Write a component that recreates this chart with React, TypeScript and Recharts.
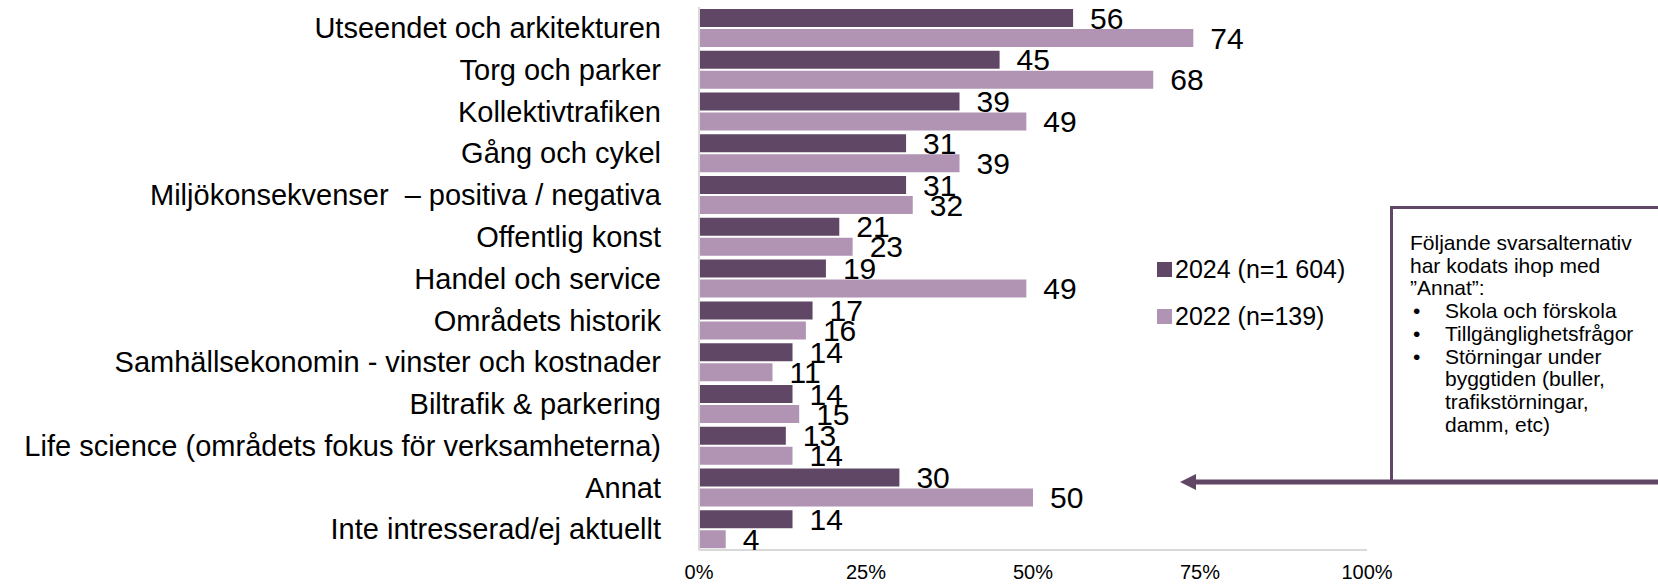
import React from 'react';
import { BarChart, Bar, XAxis, YAxis, LabelList } from 'recharts';

const categories = [
  'Utseendet och arkitekturen',
  'Torg och parker',
  'Kollektivtrafiken',
  'Gång och cykel',
  'Miljökonsekvenser \u00a0– positiva / negativa',
  'Offentlig konst',
  'Handel och service',
  'Områdets historik',
  'Samhällsekonomin - vinster och kostnader',
  'Biltrafik & parkering',
  'Life science (områdets fokus för verksamheterna)',
  'Annat',
  'Inte intresserad/ej aktuellt',
];
const values2024 = [56, 45, 39, 31, 31, 21, 19, 17, 14, 14, 13, 30, 14];
const values2022 = [74, 68, 49, 39, 32, 23, 49, 16, 11, 15, 14, 50, 4];
const xTicks = [0, 25, 50, 75, 100];
const seriesNames = ['2024 (n=1 604)', '2022 (n=139)'];
const seriesColors = ['#614766', '#b193b4'];
const noteIntro = ['Följande svarsalternativ', 'har kodats ihop med', '”Annat”:'];
const noteBullets = [
  ['Skola och förskola'],
  ['Tillgänglighetsfrågor'],
  ['Störningar under', 'byggtiden (buller,', 'trafikstörningar,', 'damm, etc)'],
];

const data = categories.map((c, i) => ({ name: c, v2024: values2024[i], v2022: values2022[i] }));

const FONT = '"Liberation Sans", Arial, sans-serif';

export default function App() {
  return (
    <div style={{ position: 'absolute', left: 0, top: 0, width: 1658, height: 585, fontFamily: FONT, background: '#fff', overflow: 'hidden' }}>
      <BarChart
        width={1658}
        height={585}
        data={data}
        layout="vertical"
        margin={{ top: 7, right: 291, bottom: 0, left: 0 }}
        barSize={18}
        barGap={2}
      >
        <XAxis
          type="number"
          domain={[0, 100]}
          ticks={xTicks}
          tickFormatter={(v: number) => `${v}%`}
          axisLine={{ stroke: '#d9d9d9', strokeWidth: 2 }}
          tickLine={false}
          tickMargin={9}
          height={35}
          tick={{ fontSize: 20, fill: '#000' }}
        />
        <YAxis
          type="category"
          dataKey="name"
          width={699}
          interval={0}
          axisLine={{ stroke: '#d9d9d9', strokeWidth: 2 }}
          tickLine={false}
          tickMargin={32}
          tick={{ fontSize: 29, fill: '#000' }}
        />
        <Bar dataKey="v2024" name={seriesNames[0]} fill={seriesColors[0]} isAnimationActive={false}>
          <LabelList dataKey="v2024" position="right" offset={17} style={{ fontSize: 30, fill: '#000' }} />
        </Bar>
        <Bar dataKey="v2022" name={seriesNames[1]} fill={seriesColors[1]} isAnimationActive={false}>
          <LabelList dataKey="v2022" position="right" offset={17} style={{ fontSize: 30, fill: '#000' }} />
        </Bar>
      </BarChart>
      <div style={{ position: 'absolute', left: 1157, top: 246 }}>
        {seriesNames.map((n, i) => (
          <div key={n} style={{ display: 'flex', alignItems: 'center', height: 47 }}>
            <div style={{ width: 15, height: 15, background: seriesColors[i], marginRight: 3 }} />
            <span style={{ fontSize: 25, color: '#000', whiteSpace: 'pre' }}>{n}</span>
          </div>
        ))}
      </div>
      <div
        style={{
          position: 'absolute',
          left: 1390,
          top: 206,
          width: 300,
          height: 276,
          borderLeft: '3px solid #614766',
          borderTop: '3px solid #614766',
          background: '#fff',
          boxSizing: 'border-box',
          fontSize: 21,
          lineHeight: '22.7px',
          color: '#000',
          paddingTop: 23,
          paddingLeft: 17,
        }}
      >
        {noteIntro.map((l) => (
          <div key={l}>{l}</div>
        ))}
        {noteBullets.map((lines) => (
          <div key={lines[0]} style={{ position: 'relative', paddingLeft: 35 }}>
            <span style={{ position: 'absolute', left: 3 }}>•</span>
            {lines.map((l) => (
              <div key={l}>{l}</div>
            ))}
          </div>
        ))}
      </div>
      <svg style={{ position: 'absolute', left: 0, top: 0 }} width={1658} height={585}>
        <line x1={1192} y1={482} x2={1658} y2={482} stroke="#614766" strokeWidth={5} />
        <polygon points="1180,482 1196,474 1196,490" fill="#614766" />
      </svg>
    </div>
  );
}
